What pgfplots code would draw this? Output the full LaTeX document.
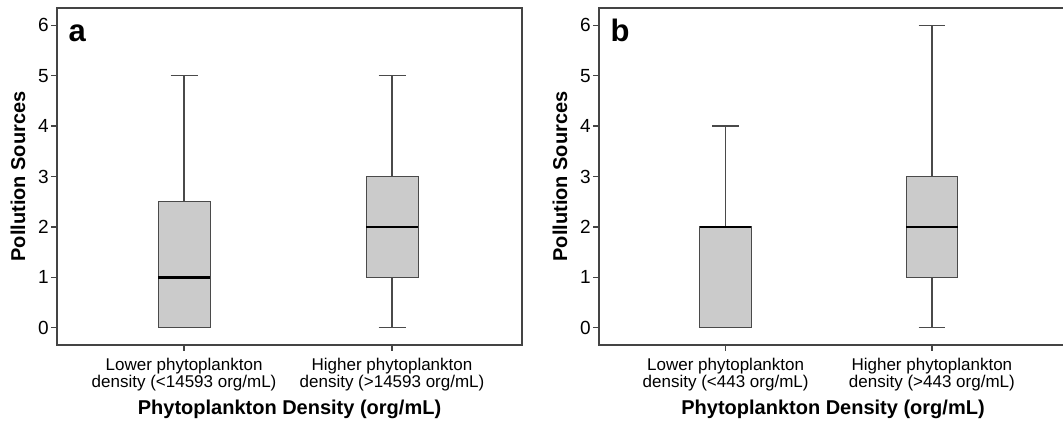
\documentclass[border=0pt]{standalone}
\usepackage{fontspec}
\setmainfont{Liberation Sans}
\usepackage{pgfplots}
\pgfplotsset{compat=1.18}
\usepgfplotslibrary{statistics}
\definecolor{boxfill}{HTML}{CBCBCB}
\definecolor{edge}{HTML}{4A4A4A}
\definecolor{axisc}{HTML}{444444}
\pgfplotsset{
 panel/.style={
  scale only axis, height=337pt,
  ymin=-0.34, ymax=6.34, ytick={0,...,6},
  xtick={1,2},
  axis line style={axisc, line width=1.2pt},
  tick style={axisc, line width=1.2pt},
  tick align=outside, major tick length=6pt,
  xtick pos=bottom, ytick pos=left,
  /pgf/number format/assume math mode=true,
  yticklabel style={font=\fontsize{19}{21}\selectfont, inner sep=2pt},
  xticklabel style={font=\fontsize{17}{17}\selectfont, align=center, inner sep=3pt, yshift=-4pt},
  xlabel style={font=\bfseries\fontsize{20}{22}\selectfont, at={(rel axis cs:0.5,0)}, anchor=base, yshift=-70pt},
  ylabel style={font=\bfseries\fontsize{20}{22}\selectfont, at={(rel axis cs:0,0.5)}, anchor=center, yshift=39pt},
  xlabel={Phytoplankton Density (org/mL)},
  ylabel={Pollution Sources},
  boxplot/draw direction=y,
  boxplot/every box/.style={draw=edge, fill=boxfill, line width=1pt},
  boxplot/every whisker/.style={draw=edge, line width=1.2pt},
  boxplot/every median/.style={black, line width=2.5pt},
  boxplot/box extend=0.25, boxplot/whisker extend=0.13,
 }
}
\begin{document}
\begin{tikzpicture}
\useasboundingbox (0,0) rectangle (1063pt,423pt);
\begin{axis}[panel, width=465pt, at={(57pt,78pt)}, anchor=south west,
  xmin=0.389, xmax=2.625,
  xticklabels={{Lower phytoplankton\\density (<14593 org/mL)},{Higher phytoplankton\\density (>14593 org/mL)}}]
\addplot[boxplot prepared={lower whisker=0, lower quartile=0, median=1, upper quartile=2.5, upper whisker=5, draw position=1}] coordinates {};
\addplot[boxplot prepared={lower whisker=0, lower quartile=1, median=2, upper quartile=3, upper whisker=5, draw position=2}] coordinates {};
\node[anchor=base west, xshift=8pt, yshift=-34pt, font=\bfseries\fontsize{31}{31}\selectfont] at (rel axis cs:0,1) {a};
\end{axis}
\begin{axis}[panel, width=468pt, at={(599pt,78pt)}, anchor=south west,
  xmin=0.386, xmax=2.655,
  xticklabels={{Lower phytoplankton\\density (<443 org/mL)},{Higher phytoplankton\\density (>443 org/mL)}}]
\addplot[boxplot prepared={lower whisker=0, lower quartile=0, median=2, upper quartile=2, upper whisker=4, draw position=1}] coordinates {};
\addplot[boxplot prepared={lower whisker=0, lower quartile=1, median=2, upper quartile=3, upper whisker=6, draw position=2}] coordinates {};
\node[anchor=base west, xshift=8pt, yshift=-34pt, font=\bfseries\fontsize{31}{31}\selectfont] at (rel axis cs:0,1) {b};
\end{axis}
\end{tikzpicture}
\end{document}
